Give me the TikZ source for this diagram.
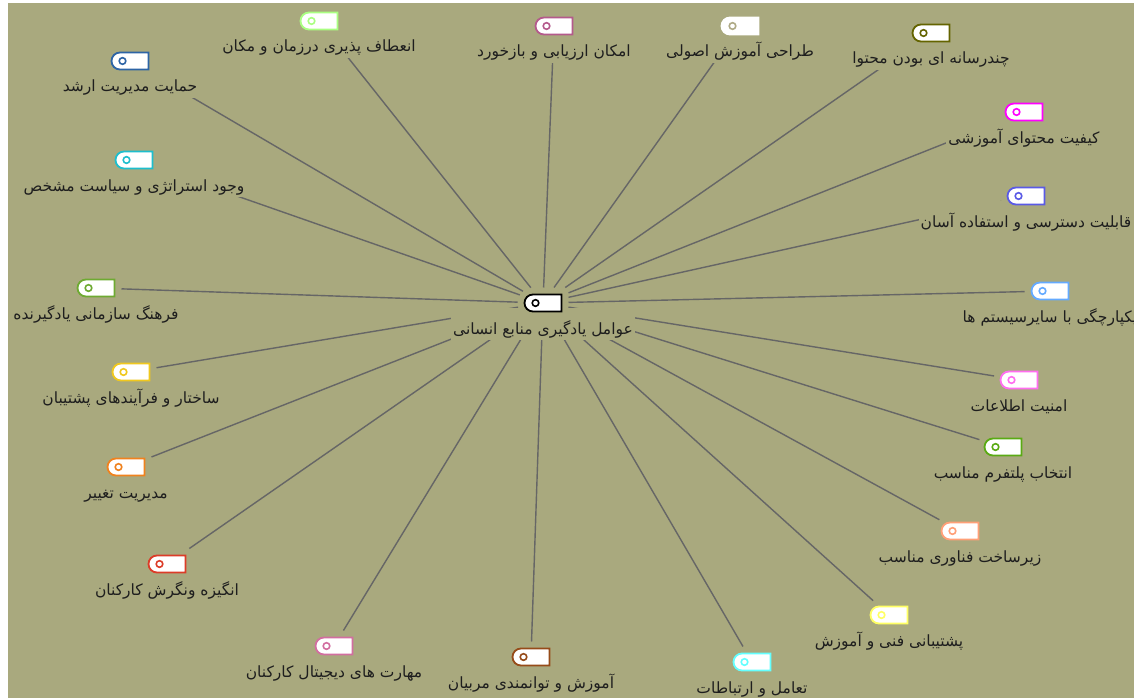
\documentclass[tikz,border=0pt]{standalone}
\usepackage{fontspec}
\newfontfamily\farsifont[Script=Arabic]{DejaVu Sans}
\TeXXeTstate=1
\usetikzlibrary{shapes.misc,backgrounds}

\definecolor{bgolive}{RGB}{169,169,126}
\definecolor{edgegray}{RGB}{102,102,102}
\definecolor{textdark}{RGB}{30,30,30}
\definecolor{cflex}{RGB}{170,255,130}
\definecolor{cmgmt}{RGB}{45,100,165}
\definecolor{ceval}{RGB}{180,90,140}
\definecolor{cdesign}{RGB}{175,170,135}
\definecolor{cmedia}{RGB}{100,100,0}
\definecolor{cquality}{RGB}{255,0,255}
\definecolor{caccess}{RGB}{90,90,230}
\definecolor{cinteg}{RGB}{100,170,255}
\definecolor{csecur}{RGB}{255,110,240}
\definecolor{cplatf}{RGB}{90,170,20}
\definecolor{cinfra}{RGB}{255,160,120}
\definecolor{csupp}{RGB}{255,255,100}
\definecolor{cinter}{RGB}{100,255,255}
\definecolor{ccoach}{RGB}{150,75,25}
\definecolor{cdigi}{RGB}{210,110,160}
\definecolor{cmotiv}{RGB}{220,60,40}
\definecolor{cchange}{RGB}{240,130,30}
\definecolor{cstruct}{RGB}{240,200,30}
\definecolor{ccult}{RGB}{110,170,50}
\definecolor{cstrat}{RGB}{30,190,205}

\newcommand{\fa}[1]{\beginR #1\endR}

\tikzset{
  tagpair/.style 2 args={rounded rectangle, rounded rectangle right arc=none,
    draw=#1, fill=white, line width=1.8pt, minimum width=37pt, minimum height=17pt,
    inner sep=0pt, outer sep=7pt,
    path picture={\draw[#2, line width=1.6pt, fill=white]
      ([xshift=11pt]path picture bounding box.west) circle (3.3pt);}},
  tag/.style={tagpair={#1}{#1}},
  lbl/.style={fill=bgolive, inner sep=2pt, anchor=base, yshift=-31pt,
    text=textdark, text height=24pt, text depth=4pt,
    font=\farsifont\fontsize{15.5}{18}\selectfont},
  edge/.style={draw=edgegray, line width=1.4pt}
}

\begin{document}
\begin{tikzpicture}[x=1pt, y=-1pt]
  \useasboundingbox (0,0) rectangle (1134,698);

  % 中心节点
  \node[lbl] (hr-l) at (543,303) {\fa{عوامل یادگیری منابع انسانی}};
  \node[tag=black] (hr) at (543,303) {};

  % 上方
  \node[lbl] (flex-l) at (319,21) {\fa{انعطاف پذیری درزمان و مکان}};
  \node[tag=cflex] (flex) at (319,21) {};
  \node[lbl] (mgmt-l) at (130,61) {\fa{حمایت مدیریت ارشد}};
  \node[tag=cmgmt] (mgmt) at (130,61) {};
  \node[lbl] (eval-l) at (554,26) {\fa{امکان ارزیابی و بازخورد}};
  \node[tag=ceval] (eval) at (554,26) {};
  \node[lbl] (design-l) at (740,26) {\fa{طراحی آموزش اصولی}};
  \node[tagpair={white}{cdesign}] (design) at (740,26) {};
  \node[lbl] (media-l) at (931,33) {\fa{چندرسانه ای بودن محتوا}};
  \node[tag=cmedia] (media) at (931,33) {};

  % 右侧
  \node[lbl] (quality-l) at (1024,112) {\fa{کیفیت محتوای آموزشی}};
  \node[tag=cquality] (quality) at (1024,112) {};
  \node[lbl] (access-l) at (1026,196) {\fa{قابلیت دسترسی و استفاده آسان}};
  \node[tag=caccess] (access) at (1026,196) {};
  \node[lbl] (integ-l) at (1050,291) {\fa{یکپارچگی با سایرسیستم ها}};
  \node[tag=cinteg] (integ) at (1050,291) {};
  \node[lbl] (secur-l) at (1019,380) {\fa{امنیت اطلاعات}};
  \node[tag=csecur] (secur) at (1019,380) {};
  \node[lbl] (platf-l) at (1003,447) {\fa{انتخاب پلتفرم مناسب}};
  \node[tag=cplatf] (platf) at (1003,447) {};
  \node[lbl] (infra-l) at (960,531) {\fa{زیرساخت فناوری مناسب}};
  \node[tag=cinfra] (infra) at (960,531) {};

  % 下方
  \node[lbl] (supp-l) at (889,615) {\fa{پشتیبانی فنی و آموزش}};
  \node[tag=csupp] (supp) at (889,615) {};
  \node[lbl] (inter-l) at (752,662) {\fa{تعامل و ارتباطات}};
  \node[tag=cinter] (inter) at (752,662) {};
  \node[lbl] (coach-l) at (531,657) {\fa{آموزش و توانمندی مربیان}};
  \node[tag=ccoach] (coach) at (531,657) {};
  \node[lbl] (digi-l) at (334,646) {\fa{مهارت های دیجیتال کارکنان}};
  \node[tag=cdigi] (digi) at (334,646) {};
  \node[lbl] (motiv-l) at (167,564) {\fa{انگیزه ونگرش کارکنان}};
  \node[tag=cmotiv] (motiv) at (167,564) {};

  % 左侧
  \node[lbl] (change-l) at (126,467) {\fa{مدیریت تغییر}};
  \node[tag=cchange] (change) at (126,467) {};
  \node[lbl] (struct-l) at (131,372) {\fa{ساختار و فرآیندهای پشتیبان}};
  \node[tag=cstruct] (struct) at (131,372) {};
  \node[lbl] (cult-l) at (96,288) {\fa{فرهنگ سازمانی یادگیرنده}};
  \node[tag=ccult] (cult) at (96,288) {};
  \node[lbl] (strat-l) at (134,160) {\fa{وجود استراتژی و سیاست مشخص}};
  \node[tag=cstrat] (strat) at (134,160) {};

  % 背景与连线
  \begin{pgfonlayer}{background}
    \fill[white] (0,0) rectangle (1134,698);
    \fill[bgolive] (8,3) rectangle (1134,698);
    \draw[edge] (hr) -- (flex);
    \draw[edge] (hr) -- (mgmt);
    \draw[edge] (hr) -- (eval);
    \draw[edge] (hr) -- (design);
    \draw[edge] (hr) -- (media);
    \draw[edge] (hr) -- (quality);
    \draw[edge] (hr) -- (access);
    \draw[edge] (hr) -- (integ);
    \draw[edge] (hr) -- (secur);
    \draw[edge] (hr) -- (platf);
    \draw[edge] (hr) -- (infra);
    \draw[edge] (hr) -- (supp);
    \draw[edge] (hr) -- (inter);
    \draw[edge] (hr) -- (coach);
    \draw[edge] (hr) -- (digi);
    \draw[edge] (hr) -- (motiv);
    \draw[edge] (hr) -- (change);
    \draw[edge] (hr) -- (struct);
    \draw[edge] (hr) -- (cult);
    \draw[edge] (hr) -- (strat);
  \end{pgfonlayer}
\end{tikzpicture}
\end{document}
